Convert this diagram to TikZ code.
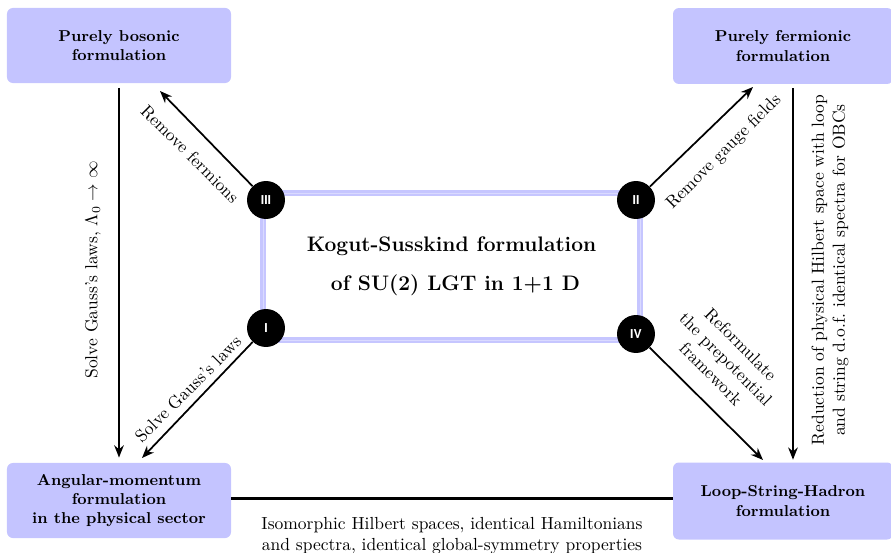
\documentclass[tikz,border=0pt]{standalone}
\usepackage{fontspec}
\newfontfamily\helv{TeX Gyre Heros}
\usetikzlibrary{arrows.meta}
\definecolor{boxblue}{RGB}{196,196,255}
\definecolor{rectblue}{RGB}{198,198,255}
\definecolor{rectinner}{RGB}{218,218,255}
\begin{document}
\begin{tikzpicture}[x=0.5714pt,y=-0.5714pt,
  fbox/.style={fill=boxblue, rounded corners=3.4pt, align=center, font=\small\bfseries, inner sep=0pt},
  rn/.style={circle, fill=black, minimum size=21.7pt, inner sep=0pt, text=white, font=\helv\bfseries\scriptsize},
  arr/.style={-{Stealth[length=7pt,width=5.5pt]}, line width=1pt},
  lbl/.style={align=center, font=\normalsize, inner sep=1pt}]
\useasboundingbox (0,0) rectangle (891,553);

% boxes
\node[fbox, minimum width=128pt, minimum height=42.9pt] (pb) at (119,45.5) {Purely bosonic\\formulation};
\node[fbox, minimum width=125.7pt, minimum height=43.4pt] (pf) at (783,46) {Purely fermionic\\formulation};
\node[fbox, minimum width=128pt, minimum height=42.9pt] (am) at (119,500.5) {Angular-momentum\\formulation\\in the physical sector};
\node[fbox, minimum width=125.7pt, minimum height=44pt] (lsh) at (783,501) {Loop-String-Hadron\\formulation};

% central rectangle
\node[draw=rectblue, line width=1.3pt, double=rectinner, double distance=0.5pt,
      minimum width=215.4pt, minimum height=84pt, inner sep=0pt,
      align=center, font=\large\bfseries] (ks) at (451.5,266.5)
      {Kogut-Susskind formulation\\[8.5pt] \ of SU(2) LGT in 1+1 D};

% roman numeral circles
\node[rn] (c3) at (266,200) {III};
\node[rn] (c2) at (636,200) {II};
\node[rn] (c1) at (266,328) {I};
\node[rn] (c4) at (636,334) {IV};

% arrow tips
\coordinate (t3) at (160,91);
\coordinate (t2) at (753,87);
\coordinate (t1) at (142,458);
\coordinate (t4) at (763,460);

\draw[arr] (c3) -- (t3);
\draw[arr] (c2) -- (t2);
\draw[arr] (c1) -- (t1);
\draw[arr] (c4) -- (t4);

% vertical arrows
\draw[arr, shorten <=2.6pt, shorten >=2.9pt] (pb) -- (am);
\draw[arr] ([xshift=5.7pt, yshift=-2.3pt]pf.south) -- ([xshift=5.7pt, yshift=1.4pt]pf.south |- lsh.north);

% horizontal line
\draw[line width=1.7pt] ([yshift=1.4pt]am.east) -- ([yshift=1.4pt]am.east -| lsh.west);

% labels
\node[lbl, rotate=-45] (l3) at (190,154) {Remove fermions};
\node[lbl, rotate=45] (l2) at (724,152) {Remove gauge fields};
\node[lbl, rotate=45] (l1) at (188,389) {Solve Gauss's laws};
\node[lbl, rotate=-45] (l4) at (726,359) {Reformulate\\the prepotential\\framework};
\node[lbl, rotate=90] (lv) at (93,270) {Solve Gauss's laws, $\Lambda_0\to\infty$};
\node[lbl, rotate=90] (rv) at (830,270) {Reduction of physical Hilbert space with loop\\and string d.o.f.\ identical spectra for OBCs};
\node[lbl] (lh) at (452,536) {Isomorphic Hilbert spaces, identical Hamiltonians\\and spectra, identical global-symmetry properties};
\end{tikzpicture}
\end{document}
